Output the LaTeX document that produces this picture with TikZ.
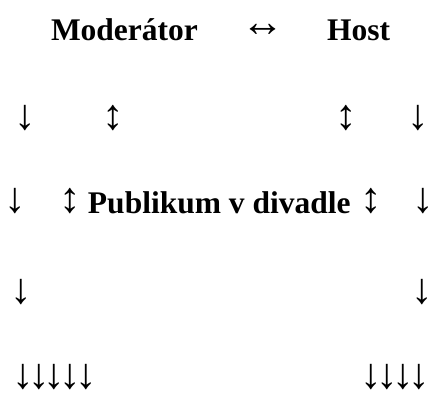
\documentclass[tikz,border=0pt]{standalone}
\usepackage{fontspec}
\setmainfont{Liberation Serif}
\begin{document}
\begin{tikzpicture}[x=1pt,y=-1pt,
  lbl/.style={inner sep=0pt,outer sep=0pt,font=\fontsize{31.5}{36}\selectfont\bfseries,anchor=base west},
  arr/.style={inner sep=0pt,outer sep=0pt,font=\fontsize{43}{48}\selectfont,anchor=center}]
\useasboundingbox (0,0) rectangle (432,394);
% row 1
\node[lbl] (mod) at (51,40) {Moderátor};
\node[arr] (lr) at (263,30) {↔};
\node[lbl] (host) at (327,40) {Host};
% row 2
\node[arr] (d2l) at (25,118) {↓};
\node[arr] (u2l) at (113,118) {↕};
\node[arr] (u2r) at (346,118) {↕};
\node[arr] (d2r) at (418,118) {↓};
% row 3
\node[arr] (d3l) at (15,201) {↓};
\node[arr] (u3l) at (70,201) {↕};
\node[lbl] (pub) at (88,213) {Publikum v divadle};
\node[arr] (u3r) at (371,201) {↕};
\node[arr] (d3r) at (423,201) {↓};
% row 4
\node[arr] (d4l) at (21,292) {↓};
\node[arr] (d4r) at (422,292) {↓};
% row 5
\foreach \i [count=\k] in {0,...,4} {
  \node[arr] (d5l\k) at (23+15.75*\i,377) {↓};
}
\foreach \i [count=\k] in {0,...,3} {
  \node[arr] (d5r\k) at (371+16*\i,377) {↓};
}
\end{tikzpicture}
\end{document}
